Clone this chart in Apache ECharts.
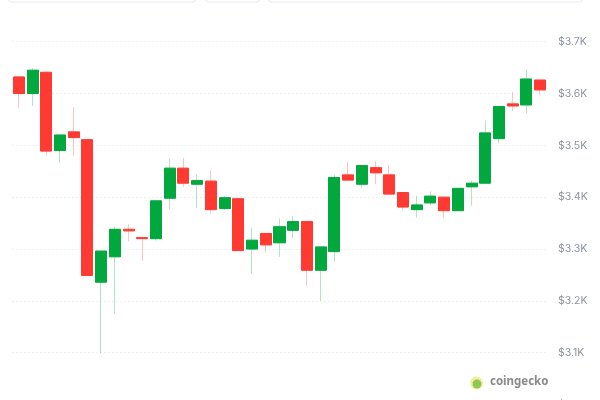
<!DOCTYPE html>
<html>
<head>
<meta charset="utf-8">
<script src="https://cdn.jsdelivr.net/npm/echarts@6/dist/echarts.min.js"></script>
<style>
html,body{margin:0;padding:0;background:#fff;}
#chart{width:600px;height:400px;}
</style>
</head>
<body>
<div id="chart"></div>
<script>
// --- data ---
var categories = ['1','2','3','4','5','6','7','8','9','10','11','12','13','14','15','16','17','18','19','20',
  '21','22','23','24','25','26','27','28','29','30','31','32','33','34','35','36','37','38','39'];
var openVals  = [3632,3600,3641,3490,3526,3511,3236,3285,3338,3322,3320,3398,3456,3425,3431,3378,3397,3300,3330,3312,
  3336,3353,3259,3295,3443,3425,3457,3443,3409,3376,3389,3400,3374,3420,3427,3513,3580,3578,3626];
var closeVals = [3600,3645,3489,3520,3515,3249,3296,3338,3335,3320,3393,3456,3427,3432,3376,3399,3297,3317,3308,3343,
  3353,3259,3304,3438,3433,3461,3447,3406,3381,3385,3402,3374,3417,3427,3524,3575,3576,3628,3607];
var lowVals   = [3572,3576,3481,3466,3480,3249,3099,3175,3315,3277,3316,3377,3420,3379,3368,3375,3297,3252,3293,3285,
  3321,3230,3200,3276,3432,3418,3425,3406,3376,3361,3384,3360,3374,3383,3427,3504,3567,3562,3598];
var highVals  = [3632,3649,3643,3520,3574,3511,3296,3343,3348,3322,3393,3474,3476,3444,3451,3403,3397,3341,3330,3359,
  3364,3353,3304,3443,3468,3461,3470,3462,3409,3403,3411,3400,3417,3432,3548,3575,3603,3646,3626];
var yTicks = [3000,3100,3200,3300,3400,3500,3600,3700];
var yTickLabels = ['$3K','$3.1K','$3.2K','$3.3K','$3.4K','$3.5K','$3.6K','$3.7K'];

var UP = '#00a83e', DOWN = '#ff3a33';
var UP_W = 'rgba(0,168,62,0.3)', DOWN_W = 'rgba(255,58,51,0.3)';

var fullData = categories.map(function(c,i){ return [openVals[i], closeVals[i], lowVals[i], highVals[i]]; });
var bodyData = categories.map(function(c,i){
  var lo = Math.min(openVals[i], closeVals[i]), hi = Math.max(openVals[i], closeVals[i]);
  return [openVals[i], closeVals[i], lo, hi];
});

var chart = echarts.init(document.getElementById('chart'), null, {renderer:'canvas'});
chart.setOption({
  animation:false,
  backgroundColor:'#ffffff',
  grid:{left:12, width:535, top:41.7, height:362.8, containLabel:false, outerBoundsMode:'none'},
  xAxis:{type:'category', data:categories, show:false, boundaryGap:true},
  yAxis:{
    type:'value', position:'right', min:3000, max:3700, interval:100,
    axisLine:{show:false}, axisTick:{show:false},
    splitLine:{show:true, lineStyle:{color:'#efefef', type:[2,2], width:1}},
    axisLabel:{
      margin:11, color:'#8e949e', fontSize:10.5, fontFamily:'Inter, "Noto Sans", sans-serif',
      verticalAlign:'middle', padding:[0,0,11,0],
      formatter:function(v){ var k = yTicks.indexOf(v); return k>=0 ? yTickLabels[k] : ''; }
    }
  },
  series:[
    {
      type:'candlestick', data:fullData, barWidth:'84%',
      itemStyle:{color:'rgba(0,0,0,0)', color0:'rgba(0,0,0,0)', borderColor:UP_W, borderColor0:DOWN_W, borderWidth:1}
    },
    {
      type:'candlestick', data:bodyData, barWidth:'84%',
      itemStyle:{color:UP, color0:DOWN, borderColor:UP, borderColor0:DOWN, borderWidth:1}
    }
  ],
  graphic:[
    {type:'rect', shape:{x:8,y:-20,width:188,height:22,r:4}, style:{fill:'#fff', stroke:'#eef1f5', lineWidth:1.5}},
    {type:'rect', shape:{x:205,y:-20,width:55,height:22,r:4}, style:{fill:'#fff', stroke:'#eef1f5', lineWidth:1.5}},
    {type:'rect', shape:{x:268,y:-20,width:315,height:22,r:4}, style:{fill:'#fff', stroke:'#eef1f5', lineWidth:1.5}},
    {type:'circle', shape:{cx:476.5, cy:383, r:6.5}, style:{fill:'#f5eda0'}},
    {type:'circle', shape:{cx:477, cy:384, r:4.5}, style:{fill:'#8cc94f'}},
    {type:'text', left:490, top:376, style:{text:'coingecko', fill:'#8a8a8a', font:'bold 11.5px "Noto Sans", Inter, sans-serif'}}
  ]
});
</script>
</body>
</html>
